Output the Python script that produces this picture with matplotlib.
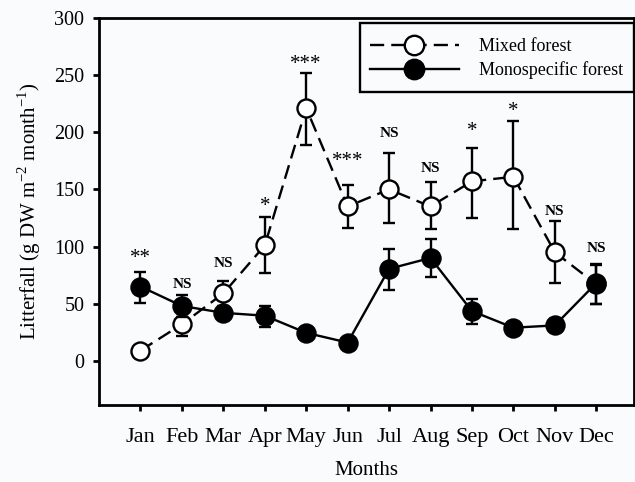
import matplotlib
matplotlib.use("Agg")
import matplotlib.pyplot as plt
import numpy as np
from matplotlib.lines import Line2D
from matplotlib.patches import Rectangle

plt.rcParams['font.family'] = ['Liberation Serif', 'DejaVu Serif']
plt.rcParams['mathtext.fontset'] = 'custom'
plt.rcParams['mathtext.rm'] = 'Liberation Serif'

months = ['Jan', 'Feb', 'Mar', 'Apr', 'May', 'Jun', 'Jul', 'Aug', 'Sep', 'Oct', 'Nov', 'Dec']

# Mixed forest (open circles)
mixed = [9, 32, 59, 101, 221, 135, 150, 135, 157, 161, 95, 67]
mixed_lo = [9, 22, 48, 77, 189, 116, 121, 115, 125, 115, 68, 50]
mixed_hi = [9, 42, 70, 126, 252, 154, 182, 156, 186, 210, 122, 84]

# Monospecific forest (filled circles)
mono = [65, 48, 42, 39.5, 24.5, 16, 80.5, 90, 43.5, 29, 31, 68]
mono_lo = [51, 38, 42, 30, 24.5, 16, 62, 73, 32, 29, 31, 50]
mono_hi = [78, 58, 42, 48, 24.5, 16, 98, 107, 54, 29, 31, 85]

# significance labels and the height of their centre
sig = ['**', 'NS', 'NS', '*', '***', '***', 'NS', 'NS', '*', '*', 'NS', 'NS']
sig_y = [93.6, 68, 86, 139, 263, 178, 200, 169, 205, 222, 132, 99]

bg = '#fafbfd'
fig = plt.figure(figsize=(6.35, 4.82), dpi=100, facecolor=bg)
ax = fig.add_axes([0.156, 0.160, 0.843, 0.803], facecolor=bg)

x = np.arange(1, 13)
lw = 1.7

mixed = np.array(mixed)
mono = np.array(mono)
m_err = [mixed - np.array(mixed_lo), np.array(mixed_hi) - mixed]
s_err = [mono - np.array(mono_lo), np.array(mono_hi) - mono]

ax.errorbar(x, mixed, yerr=m_err, fmt='none', ecolor='black', elinewidth=lw,
            capsize=4, capthick=lw, zorder=2)
ax.plot(x, mixed, color='black', lw=lw, dashes=(6, 3), zorder=3)
ax.plot(x, mixed, 'o', ms=13, mfc='white', mec='black', mew=lw, zorder=4)

ax.errorbar(x, mono, yerr=s_err, fmt='none', ecolor='black', elinewidth=lw,
            capsize=4, capthick=lw, zorder=5)
ax.plot(x, mono, color='black', lw=lw, zorder=6)
ax.plot(x, mono, 'o', ms=13, mfc='black', mec='black', mew=lw, zorder=7)

for xi, s, yv in zip(x, sig, sig_y):
    if s == 'NS':
        ax.text(xi, yv - 4, s, ha='center', va='baseline', fontsize=11, fontweight='bold')
    else:
        ax.text(xi, yv - 8, s, ha='center', va='baseline', fontsize=15)

ax.set_xlim(0, 12.92)
ax.set_ylim(-38.5, 300)
ax.set_xticks(x)
ax.set_xticklabels(months)
ax.set_yticks([0, 50, 100, 150, 200, 250, 300])
ax.tick_params(direction='out', length=4.5, width=2)
ax.tick_params(axis='x', pad=12, labelsize=16)
ax.tick_params(axis='y', pad=6, labelsize=14.5)
for sp in ax.spines.values():
    sp.set_linewidth(2)

ax.set_xlabel('Months', fontsize=15, labelpad=10)
ax.set_ylabel('Litterfall (g DW m$^{-2}$ month$^{-1}$)', fontsize=15, labelpad=8)

handles = [
    Line2D([], [], color='black', lw=lw, dashes=(6, 3), marker='o', ms=14,
           mfc='white', mec='black', mew=lw),
    Line2D([], [], color='black', lw=lw, marker='o', ms=14,
           mfc='black', mec='black', mew=lw),
]
leg = ax.legend(handles, ['Mixed forest', 'Monospecific forest'], loc='upper left',
                bbox_to_anchor=(0.583, 0.921), bbox_transform=fig.transFigure,
                fontsize=13, handlelength=4.9, handletextpad=1.1, frameon=False,
                borderpad=0, labelspacing=0.35, borderaxespad=0)
fig.patches.append(Rectangle((0.567, 0.809), 0.431, 0.143, transform=fig.transFigure,
                             fill=False, edgecolor='black', lw=1.7, zorder=10))

fig.savefig('out.png', dpi=100, facecolor=bg)
